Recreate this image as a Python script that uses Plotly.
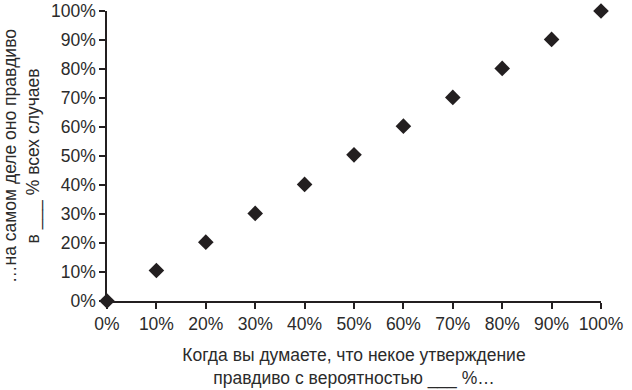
import plotly.graph_objects as go

x_vals = [0, 10, 20, 30, 40, 50, 60, 70, 80, 90, 100]
y_vals = [0, 10.5, 20.3, 30.2, 40.2, 50.4, 60.3, 70.2, 80.2, 90.2, 100]
tick_vals = [0, 10, 20, 30, 40, 50, 60, 70, 80, 90, 100]
tick_text = ["0%", "10%", "20%", "30%", "40%", "50%", "60%", "70%", "80%", "90%", "100%"]
x_title = "Когда вы думаете, что некое утверждение<br>правдиво с вероятностью ___ %…"
y_title = "…на самом деле оно правдиво<br>в ___ % всех случаев"

ink = "#231f20"
txt = "#2b2b2b"
fnt = dict(family="Liberation Sans, Arial, sans-serif", size=17.5, color=txt)

fig = go.Figure(go.Scatter(
    x=x_vals, y=y_vals, mode="markers",
    marker=dict(symbol="diamond", size=12, color=ink),
    cliponaxis=False, hoverinfo="skip"))

axis_common = dict(
    tickvals=tick_vals, ticktext=tick_text, range=[0, 100],
    showgrid=False, zeroline=False, showline=True, linecolor=ink, linewidth=1.5,
    ticks="outside", ticklen=6, tickwidth=1.5, tickcolor=ink,
    tickfont=fnt, automargin=False,
)
fig.update_xaxes(**axis_common, title=dict(text=x_title, standoff=16, font=fnt))
fig.update_yaxes(**axis_common, title=dict(text=y_title, standoff=7, font=fnt))

fig.update_layout(
    width=632, height=390,
    margin=dict(l=107, r=31, t=11, b=89),
    paper_bgcolor="white", plot_bgcolor="white",
    showlegend=False,
)
fig.write_html("out.html", config={"displayModeBar": False},
               post_script="document.body.style.margin='0';")
